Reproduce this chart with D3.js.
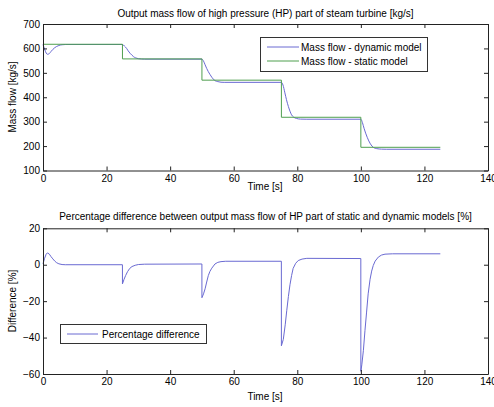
<!DOCTYPE html>
<html><head><meta charset="utf-8">
<script src="https://cdn.jsdelivr.net/npm/d3@7"></script>
<style>
body{margin:0;background:#fff}
svg{display:block;font-family:"Liberation Sans",Arial,sans-serif}
</style>
</head><body>
<svg id="c" width="494" height="407"></svg>
<script>
// ---- data ----
const xTicks = [0, 20, 40, 60, 80, 100, 120, 140];
const topYTicks = [100, 200, 300, 400, 500, 600, 700];
const botYTicks = [-60, -40, -20, 0, 20];

const staticTime = [0, 25, 25, 50, 50, 75, 75, 100, 100, 125];
const staticFlow = [617, 617, 557, 557, 470, 470, 318, 318, 195, 195];

const dynTime = [0, 0.5, 1.0, 1.4, 2.0, 2.5, 3.1, 3.7, 4.3, 5, 6, 7,
  25, 25.6, 26.3, 26.8, 27.4, 28, 28.5, 29.2, 30, 31, 32,
  50, 50.5, 51, 51.5, 52, 52.5, 53.1, 53.6, 54.1, 55, 56, 57,
  75, 75.5, 76.1, 76.6, 77.2, 77.7, 78.2, 78.8, 79.8, 81, 83,
  100, 100.5, 101, 101.5, 102, 102.5, 103, 103.5, 104, 105, 106.5, 108, 125];
const dynFlow = [616, 597, 581, 576, 579, 587, 596, 603, 608, 612, 615, 616,
  616, 610, 600, 590, 580, 572, 566, 561, 558, 556.5, 556,
  556, 548, 533, 518, 505, 494, 482, 474, 468, 464, 461.5, 461,
  461, 450, 418, 390, 362, 343, 328, 319, 313, 310.5, 310,
  310, 296, 273, 253, 236, 221, 209, 200, 194, 189.5, 187.5, 187, 187];

const diffTime = [0, 0.5, 1.0, 1.4, 2.0, 2.5, 3.1, 3.7, 4.3, 5, 6, 7,
  24.99, 25, 25.5, 26, 26.6, 27.3, 28, 29, 30, 32,
  49.99, 50, 50.5, 51, 51.5, 52, 52.5, 53.1, 54.1, 55, 56, 57.5,
  74.99, 75, 75.6, 76.2, 76.7, 77.2, 77.7, 78.2, 78.7, 79.5, 80.3, 81.5, 83,
  99.99, 100, 100.3, 100.8, 101.3, 101.8, 102.3, 102.9, 103.4, 103.9, 104.5, 105.5, 106.5, 107.6, 110, 125];
const diffVal = [0.5, 3.5, 5.8, 6.5, 5.8, 4.5, 3.2, 2.0, 1.1, 0.5, 0.1, 0,
  0, -10.5, -8, -5.9, -3.8, -2, -1, -0.3, 0.1, 0.3,
  0.4, -18.1, -16, -13.2, -9.5, -6, -3.7, -1.9, 0.4, 1.3, 1.7, 1.9,
  1.9, -44.5, -41, -33, -25, -17.5, -11, -6, -2, 0.8, 2.3, 3.1, 3.5,
  3.4, -58.5, -55, -47, -36, -26, -16, -8, -3.5, -0.4, 2.0, 4.2, 5.3, 5.8, 6.0, 6.0];

const topTitle = "Output mass flow of high pressure (HP) part of steam turbine [kg/s]";
const botTitle = "Percentage difference between output mass flow of HP part of static and dynamic models [%]";
const legendTop = ["Mass flow - dynamic model", "Mass flow - static model"];
const legendBot = ["Percentage difference"];

// ---- drawing ----
const blue = "#6a6ad2", green = "#4f9f4f", axisCol = "#222";
const svg = d3.select("#c");
const L = 43, R = 488;
const x = d3.scaleLinear().domain([0, 140]).range([L, R]);
const y1 = d3.scaleLinear().domain([100, 700]).range([170.5, 24]);
const y2 = d3.scaleLinear().domain([-60, 20]).range([374, 228.3]);

function frame(ys, yTicks) {
  const [yb, yt] = ys.range();
  const g = svg.append("g").attr("font-size", 10);
  const ax = (gen, tr) => {
    const a = g.append("g").attr("transform", tr).call(gen);
    a.select(".domain").attr("stroke", axisCol);
    a.selectAll(".tick line").attr("stroke", axisCol);
    a.selectAll("text").attr("fill", "#000").attr("font-family", "Liberation Sans, Arial, sans-serif").attr("font-size", 10);
    return a;
  };
  ax(d3.axisBottom(x).tickValues(xTicks).tickSizeInner(-4).tickSizeOuter(0).tickPadding(4), `translate(0,${yb})`);
  ax(d3.axisTop(x).tickValues(xTicks).tickSizeInner(-4).tickSizeOuter(0).tickFormat(""), `translate(0,${yt})`);
  ax(d3.axisLeft(ys).tickValues(yTicks).tickSizeInner(-4).tickSizeOuter(0).tickPadding(3), `translate(${L},0)`);
  ax(d3.axisRight(ys).tickValues(yTicks).tickSizeInner(-4).tickSizeOuter(0).tickFormat(""), `translate(${R},0)`);
}

function line(xs, vs, ys, col, curve) {
  svg.append("path")
    .datum(xs.map((t, i) => [t, vs[i]]))
    .attr("fill", "none").attr("stroke", col).attr("stroke-width", 1)
    .attr("d", d3.line().x(d => x(d[0])).y(d => ys(d[1])).curve(curve || d3.curveLinear));
}

function text(s, tx, ty, opts = {}) {
  const t = svg.append("text").attr("x", tx).attr("y", ty)
    .attr("font-size", opts.size || 10).attr("fill", "#000")
    .attr("text-anchor", opts.anchor || "middle").text(s);
  if (opts.rotate) t.attr("transform", `rotate(-90,${tx},${ty})`);
  return t;
}

// top plot
line(dynTime, dynFlow, y1, blue, d3.curveMonotoneX);
line(staticTime, staticFlow, y1, green);
frame(y1, topYTicks);
text(topTitle, (L + R) / 2, 17);
text("Time [s]", 265, 190);
text("Mass flow [kg/s]", 16, 97, {rotate: true});

// top legend
svg.append("rect").attr("x", 260.5).attr("y", 37.5).attr("width", 167).attr("height", 34)
  .attr("fill", "#fff").attr("stroke", "#333");
[[blue, legendTop[0], 47], [green, legendTop[1], 61]].forEach(([c, s, yy]) => {
  svg.append("line").attr("x1", 267).attr("x2", 299).attr("y1", yy).attr("y2", yy).attr("stroke", c);
  text(s, 301, yy + 3.5, {anchor: "start"});
});

// bottom plot
line(diffTime, diffVal, y2, blue);
frame(y2, botYTicks);
text(botTitle, (L + R) / 2, 220);
text("Time [s]", 265, 400);
text("Difference [%]", 16, 301, {rotate: true});

// bottom legend
svg.append("rect").attr("x", 60.5).attr("y", 324.5).attr("width", 146).attr("height", 19)
  .attr("fill", "#fff").attr("stroke", "#333");
svg.append("line").attr("x1", 67).attr("x2", 98).attr("y1", 334).attr("y2", 334).attr("stroke", blue);
text(legendBot[0], 102, 337.5, {anchor: "start"});
</script>
</body></html>
